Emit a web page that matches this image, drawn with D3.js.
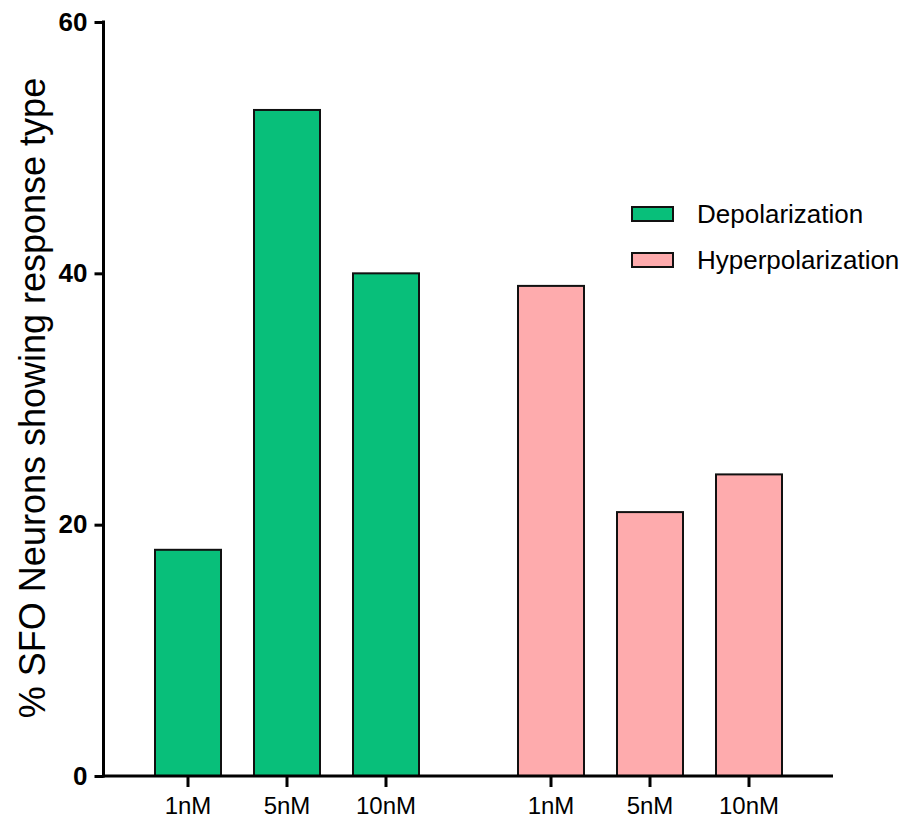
<!DOCTYPE html>
<html>
<head>
<meta charset="utf-8">
<script src="https://cdn.jsdelivr.net/npm/d3@7"></script>
<style>
  body { margin: 0; background: #fff; }
  text { font-family: "Liberation Sans", Arial, sans-serif; }
</style>
</head>
<body>
<div id="chart"></div>
<script>
const groups = ["Depolarization", "Hyperpolarization"];
const doses = ["1nM", "5nM", "10nM"];
const depolValues = [18, 53, 40];
const hyperValues = [39, 21, 24];
const groupColors = ["#08bf7a", "#feabad"];
const yTicks = [0, 20, 40, 60];

const width = 911;
const height = 823;
const svg = d3.select('#chart').append('svg').attr('width', width).attr('height', height);

const y = d3.scaleLinear().domain([0, 60]).range([776, 22]);

// outer scale places the two groups, inner scale places the doses
const xGroup = d3.scaleBand().domain(groups).range([138.5, 798.5]).paddingInner(1 - 297 / 363).paddingOuter(0);
const xDose = d3.scaleBand().domain(doses).range([0, xGroup.bandwidth()]).paddingInner(1 / 3).paddingOuter(1 / 6);

const seriesValues = [depolValues, hyperValues];

groups.forEach((g, gi) => {
    const gg = svg.append('g').attr('transform', `translate(${xGroup(g)},0)`);
    gg.selectAll('rect').data(doses).enter().append('rect')
        .attr('x', d => xDose(d))
        .attr('y', (d, i) => y(seriesValues[gi][i]))
        .attr('width', xDose.bandwidth())
        .attr('height', (d, i) => y(0) - y(seriesValues[gi][i]))
        .attr('fill', groupColors[gi])
        .attr('stroke', '#111')
        .attr('stroke-width', 2);

    const ax = gg.append('g').attr('transform', `translate(0,${y(0)})`)
        .call(d3.axisBottom(xDose).tickSize(11).tickPadding(10).tickSizeOuter(0));
    ax.select('.domain').remove();
    ax.selectAll('line').attr('stroke', '#000').attr('stroke-width', 3);
    ax.selectAll('text').attr('font-size', 24).attr('fill', '#000').attr('dy', '0.71em');
});

// x axis line
svg.append('line')
    .attr('x1', 103).attr('x2', 833)
    .attr('y1', y(0)).attr('y2', y(0))
    .attr('stroke', '#000').attr('stroke-width', 3);

// y axis
const yAxis = svg.append('g').attr('transform', 'translate(103.5,0)')
    .call(d3.axisLeft(y).tickValues(yTicks).tickSize(9).tickPadding(7).tickSizeOuter(0));
yAxis.select('.domain').attr('stroke', '#000').attr('stroke-width', 3)
    .attr('d', `M0,${y(60) - 1.5}V${y(0) + 1.5}`);
yAxis.selectAll('line').attr('stroke', '#000').attr('stroke-width', 3);
yAxis.selectAll('text').attr('font-size', 26).attr('font-weight', 'bold').attr('fill', '#000');

// y title
svg.append('text')
    .attr('transform', 'translate(45,398) rotate(-90)')
    .attr('text-anchor', 'middle')
    .attr('font-size', 36)
    .attr('fill', '#000')
    .text('% SFO Neurons showing response type');

// legend
const legend = svg.append('g').attr('transform', 'translate(632,207)');
groups.forEach((g, i) => {
    legend.append('rect')
        .attr('x', 0).attr('y', i * 46)
        .attr('width', 41).attr('height', 14)
        .attr('fill', groupColors[i])
        .attr('stroke', '#111').attr('stroke-width', 2);
    legend.append('text')
        .attr('x', 65).attr('y', i * 46 + 16)
        .attr('font-size', 26)
        .attr('fill', '#000')
        .text(g);
});
</script>
</body>
</html>
